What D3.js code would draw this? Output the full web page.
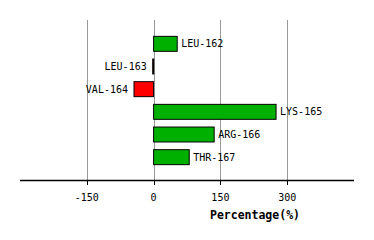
<!DOCTYPE html>
<html>
  <head>
    <meta charset="utf-8" />
    <style>
      body { margin: 0; background: #fff; }
      text { font-family: "DejaVu Sans Mono", monospace; font-size: 10px; fill: #000; }
    </style>
    <script src="https://d3js.org/d3.v7.min.js" charset="utf-8"></script>
  </head>
  <body>
    <script>
      const residues = ["LEU-162", "LEU-163", "VAL-164", "LYS-165", "ARG-166", "THR-167"];
      const values = [53, -2, -44, 275, 136, 80];
      const ticks = [-150, 0, 150, 300];

      const width = 374, height = 240;
      const plotLeft = 20, plotRight = 354, plotTop = 20, axisY = 180;

      const x = d3.scaleLinear().domain([-300, 450]).range([plotLeft, plotRight]);
      const y = d3.scaleBand().domain(residues).range([32.5, 168.5]).paddingInner(0.34).paddingOuter(0.17);

      const svg = d3.select("body").append("svg")
        .attr("width", width)
        .attr("height", height);

      // grid lines
      svg.selectAll(".grid")
        .data(ticks)
        .join("line")
        .attr("class", "grid")
        .attr("x1", d => Math.round(x(d)) + 0.5)
        .attr("x2", d => Math.round(x(d)) + 0.5)
        .attr("y1", plotTop)
        .attr("y2", axisY)
        .attr("stroke", "#999")
        .attr("stroke-width", 1);

      // bars
      svg.selectAll(".bar")
        .data(values)
        .join("rect")
        .attr("class", "bar")
        .attr("x", d => x(Math.min(0, d)))
        .attr("y", (d, i) => y(residues[i]))
        .attr("width", d => Math.max(1, Math.abs(x(d) - x(0))))
        .attr("height", y.bandwidth())
        .attr("fill", d => d < 0 ? "#ff0000" : "#00b000")
        .attr("stroke", "#000")
        .attr("stroke-width", 1);

      // bar labels
      svg.selectAll(".label")
        .data(values)
        .join("text")
        .attr("class", "label")
        .attr("x", d => d > 0 ? x(d) + 4 : x(d) - 6)
        .attr("y", (d, i) => y(residues[i]) + y.bandwidth() / 2)
        .attr("dy", "0.35em")
        .attr("text-anchor", d => d > 0 ? "start" : "end")
        .text((d, i) => residues[i]);

      // x axis
      const axis = svg.append("g")
        .attr("transform", "translate(0," + axisY + ")");

      axis.append("line")
        .attr("x1", plotLeft)
        .attr("x2", plotRight)
        .attr("y1", 0.5)
        .attr("y2", 0.5)
        .attr("stroke", "#000")
        .attr("stroke-width", 1.5);

      axis.selectAll(".tick")
        .data(ticks)
        .join("line")
        .attr("class", "tick")
        .attr("x1", d => Math.round(x(d)) + 0.5)
        .attr("x2", d => Math.round(x(d)) + 0.5)
        .attr("y1", 0)
        .attr("y2", 5)
        .attr("stroke", "#000");

      axis.selectAll(".ticklabel")
        .data(ticks)
        .join("text")
        .attr("class", "ticklabel")
        .attr("x", d => x(d))
        .attr("y", 21)
        .attr("text-anchor", "middle")
        .text(d => d);

      svg.append("text")
        .attr("x", 255)
        .attr("y", 219)
        .attr("text-anchor", "middle")
        .style("font-size", "11.5px")
        .style("font-weight", "bold")
        .text("Percentage(%)");
    </script>
  </body>
</html>
